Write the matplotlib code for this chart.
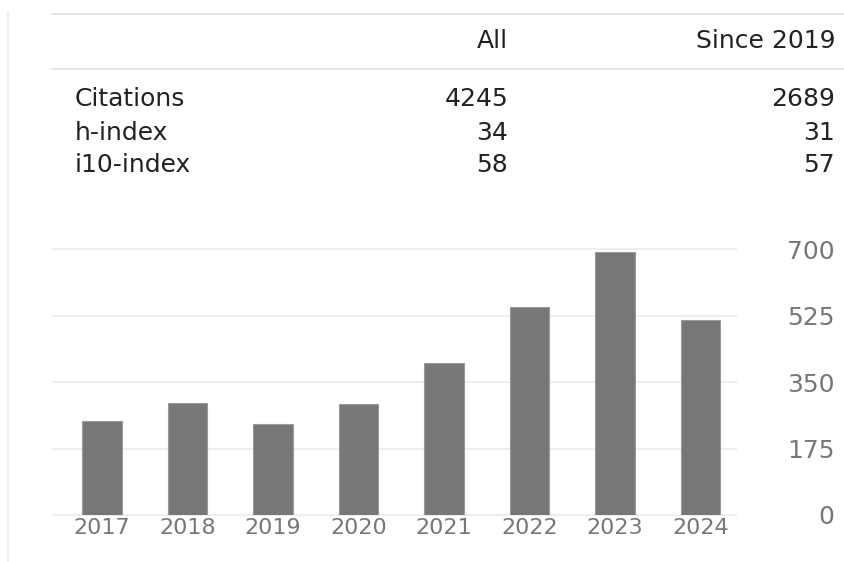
import matplotlib
matplotlib.use("Agg")
import matplotlib.pyplot as plt
from matplotlib.lines import Line2D

W, H = 844, 562
DPI = 100

# ---- citation summary table ----
header = ['All', 'Since 2019']
row_names = ['Citations', 'h-index', 'i10-index']
all_vals = ['4245', '34', '58']
since_vals = ['2689', '31', '57']

# ---- citations per year ----
years = ['2017', '2018', '2019', '2020', '2021', '2022', '2023', '2024']
cites = [247, 295, 240, 292, 401, 549, 694, 513]
yticks = [0, 175, 350, 525, 700]

TEXT_COL = '#222222'
TICK_COL = '#777777'
BAR_COL = '#777777'
GRID_COL = '#eeeeee'
LINE_COL = '#e0e0e0'


def fx(px):
    return px / W


def fy(py):
    return 1 - py / H


fig = plt.figure(figsize=(W / DPI, H / DPI), dpi=DPI)
fig.patch.set_facecolor('white')

# thin border on the left + table rules
fig.add_artist(Line2D([fx(8), fx(8)], [fy(13), fy(562)], color=GRID_COL, lw=1.5))
fig.add_artist(Line2D([fx(52), fx(844)], [fy(13.5), fy(13.5)], color=LINE_COL, lw=1.2))
fig.add_artist(Line2D([fx(52), fx(844)], [fy(68.5), fy(68.5)], color=LINE_COL, lw=1.2))

fs = 18
fig.text(fx(508), fy(48), header[0], ha='right', va='baseline', fontsize=fs, color=TEXT_COL)
fig.text(fx(835), fy(48), header[1], ha='right', va='baseline', fontsize=fs, color=TEXT_COL)
row_y = [106, 139.5, 172]
for name, a, s, y in zip(row_names, all_vals, since_vals, row_y):
    fig.text(fx(75), fy(y), name, ha='left', va='baseline', fontsize=fs, color=TEXT_COL)
    fig.text(fx(508), fy(y), a, ha='right', va='baseline', fontsize=fs, color=TEXT_COL)
    fig.text(fx(835), fy(y), s, ha='right', va='baseline', fontsize=fs, color=TEXT_COL)

# ---- bar chart ----
left, right, top, bottom = 52.7, 736, 249.3, 515
ax = fig.add_axes([fx(left), fy(bottom), fx(right - left), (bottom - top) / H])
x = list(range(len(years)))
ax.bar(x, cites, width=0.465, color=BAR_COL, edgecolor='#9a9a9a', linewidth=0.8, zorder=3)
ax.set_xlim(-0.577, 7.415)
ax.set_ylim(0, 700)

for t in yticks:
    ax.axhline(t, color=GRID_COL, lw=1.5, zorder=1, clip_on=False)

for s in ax.spines.values():
    s.set_visible(False)

ax.set_xticks(x)
ax.set_xticklabels(years, fontsize=16, color=TICK_COL)
ax.tick_params(axis='x', length=0, pad=2.5)

ax.yaxis.tick_right()
ax.set_yticks(yticks)
ax.set_yticklabels([str(t) for t in yticks], fontsize=18, color=TICK_COL)
ax.tick_params(axis='y', length=0, pad=71)
for lab in ax.get_yticklabels():
    lab.set_horizontalalignment('right')

fig.savefig('out.png', dpi=DPI, facecolor='white')
